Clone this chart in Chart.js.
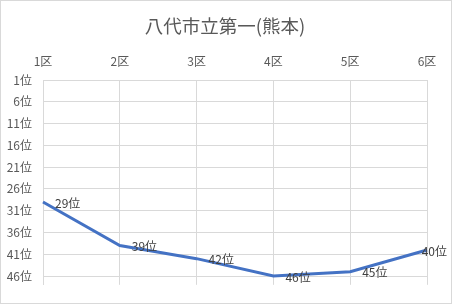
<!DOCTYPE html>
<html>
<head>
<meta charset="utf-8">
<script src="https://cdn.jsdelivr.net/npm/chart.js@4"></script>
<style>
  body { margin: 0; background: #fff; }
  #frame { position: absolute; left: 0; top: 0; width: 452px; height: 304px; box-sizing: border-box; border: 1px solid #d9d9d9; }
  #box { position: absolute; left: 0; top: 0; width: 450px; height: 302px; }
</style>
</head>
<body>
<div id="frame"><div id="box"><canvas id="myChart"></canvas></div></div>
<script>
const title = "八代市立第一(熊本)";
const districts = ["1区", "2区", "3区", "4区", "5区", "6区"];
const ranks = [29, 39, 42, 46, 45, 40];
const rankTicks = [1, 6, 11, 16, 21, 26, 31, 36, 41, 46];

const font = "'Noto Sans CJK JP', 'Noto Sans', sans-serif";
const grey = "#595959";
const gridColor = "#d9d9d9";

// title + point labels, drawn by hand
const extras = {
  id: "extras",
  afterDatasetsDraw(chart) {
    const ctx = chart.ctx;
    ctx.save();
    ctx.fillStyle = grey;
    ctx.font = "18.5px " + font;
    ctx.textAlign = "center";
    ctx.textBaseline = "middle";
    ctx.fillText(title, 224, 25);

    ctx.font = "12px " + font;
    ctx.fillStyle = "#404040";
    ctx.textAlign = "left";
    const meta = chart.getDatasetMeta(0);
    meta.data.forEach((pt, i) => {
      const txt = ranks[i] + "位";
      const w = ctx.measureText(txt).width;
      let x = pt.x + 12;
      if (x + w > chart.width - 4) x = chart.width - 4 - w;
      ctx.fillText(txt, x, pt.y + 1);
    });
    ctx.restore();
  }
};

const ctx1 = document.getElementById("myChart");
new Chart(ctx1, {
  type: "line",
  data: {
    labels: districts,
    datasets: [
      {
        data: ranks,
        borderColor: "#4472C4",
        borderWidth: 3,
        pointRadius: 0,
        tension: 0,
        fill: false,
      },
    ],
  },
  options: {
    responsive: true,
    maintainAspectRatio: false,
    animation: false,
    layout: { padding: { top: 40, left: 0, right: 24, bottom: 17 } },
    plugins: {
      legend: { display: false },
      tooltip: { enabled: false },
      title: { display: false },
    },
    scales: {
      x: {
        position: "top",
        offset: false,
        afterFit: (s) => { s.height = 39; },
        grid: { color: gridColor, drawTicks: false },
        border: { color: gridColor },
        ticks: { color: grey, padding: 11, maxRotation: 0, font: { family: font, size: 12 } },
      },
      y: {
        reverse: true,
        min: 1,
        max: 48,
        afterFit: (s) => { s.width = 42; },
        afterBuildTicks: (s) => { s.ticks = rankTicks.map((v) => ({ value: v })); },
        grid: { color: gridColor, drawTicks: false },
        border: { color: gridColor },
        ticks: {
          color: grey,
          padding: 11,
          font: { family: font, size: 12 },
          callback: (v) => v + "位",
        },
      },
    },
  },
  plugins: [extras],
});
</script>
</body>
</html>
